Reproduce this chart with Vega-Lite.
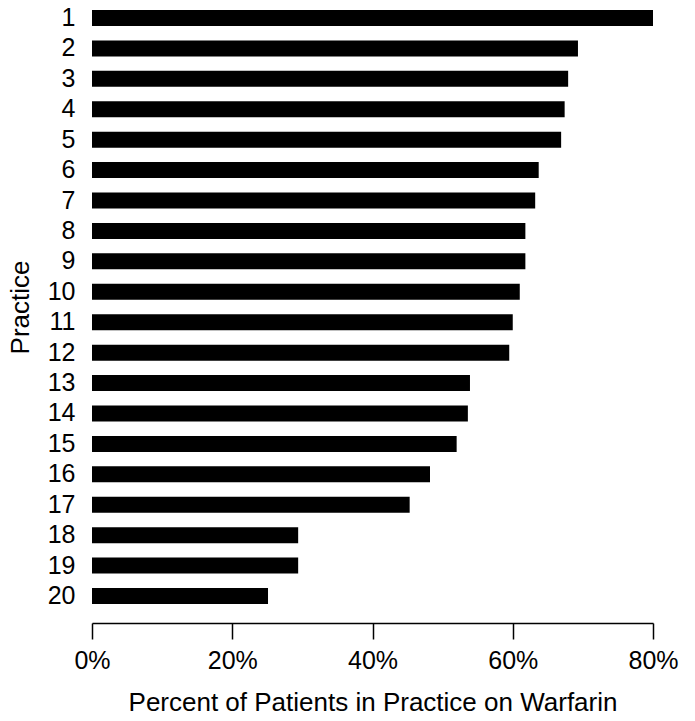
{
  "$schema": "https://vega.github.io/schema/vega-lite/v6.json",
  "autosize": {"type": "none"},
  "padding": {"left": 92, "top": 0, "right": 41, "bottom": 107},
  "width": 561,
  "height": 614,
  "background": "white",
  "config": {
    "view": {"stroke": null},
    "font": "Liberation Sans",
    "axis": {"labelFont": "Liberation Sans", "titleFont": "Liberation Sans", "labelColor": "black", "titleColor": "black", "titleFontWeight": "normal"}
  },
  "data": {
    "values": [
      {"practice": "1", "pct": 0.800},
      {"practice": "2", "pct": 0.693},
      {"practice": "3", "pct": 0.679},
      {"practice": "4", "pct": 0.674},
      {"practice": "5", "pct": 0.669},
      {"practice": "6", "pct": 0.637},
      {"practice": "7", "pct": 0.632},
      {"practice": "8", "pct": 0.618},
      {"practice": "9", "pct": 0.618},
      {"practice": "10", "pct": 0.610},
      {"practice": "11", "pct": 0.600},
      {"practice": "12", "pct": 0.595},
      {"practice": "13", "pct": 0.539},
      {"practice": "14", "pct": 0.536},
      {"practice": "15", "pct": 0.520},
      {"practice": "16", "pct": 0.482},
      {"practice": "17", "pct": 0.453},
      {"practice": "18", "pct": 0.294},
      {"practice": "19", "pct": 0.294},
      {"practice": "20", "pct": 0.251}
    ]
  },
  "mark": {"type": "bar", "color": "black"},
  "encoding": {
    "y": {
      "field": "practice",
      "type": "nominal",
      "sort": null,
      "scale": {"paddingInner": 0.474, "paddingOuter": 0.329},
      "axis": {
        "title": "Practice",
        "titleFontSize": 26,
        "titlePadding": 14,
        "labelFontSize": 25,
        "labelPadding": 17,
        "domain": false,
        "ticks": false
      }
    },
    "x": {
      "field": "pct",
      "type": "quantitative",
      "scale": {"domain": [0, 0.8], "nice": false},
      "axis": {
        "title": "Percent of Patients in Practice on Warfarin",
        "format": ".0%",
        "values": [0, 0.2, 0.4, 0.6, 0.8],
        "grid": false,
        "offset": 9,
        "labelFlush": false,
        "labelDx": 3,
        "domainColor": "black",
        "domainWidth": 1.5,
        "tickColor": "black",
        "tickWidth": 1.5,
        "tickSize": 16,
        "labelFontSize": 25,
        "labelPadding": 9,
        "titleFontSize": 26,
        "titlePadding": 16
      }
    }
  }
}
